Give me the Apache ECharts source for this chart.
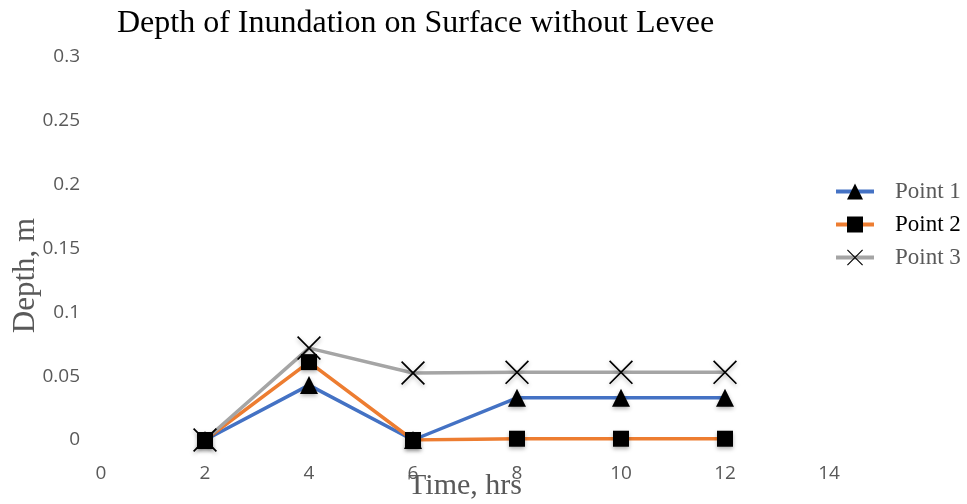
<!DOCTYPE html>
<html>
<head>
<meta charset="utf-8">
<script src="https://cdn.jsdelivr.net/npm/echarts@6/dist/echarts.min.js"></script>
<style>
  html, body { margin: 0; padding: 0; background: #fff; }
  #chart { width: 967px; height: 504px; }
</style>
</head>
<body>
<div id="chart"></div>
<script>
// time in hours
const hours = [2, 4, 6, 8, 10, 12];
const point1 = [0, 0.043, 0, 0.033, 0.033, 0.033];
const point2 = [0, 0.061, 0, 0.001, 0.001, 0.001];
const point3 = [0, 0.072, 0.0525, 0.053, 0.053, 0.053];

const crossPath = "path://M0,0.5L0.5,0L10,9.5L9.5,10Z M9.5,0L10,0.5L0.5,10L0,9.5Z";
const serif = "'Liberation Serif', 'Times New Roman', serif";
const sans = "'Open Sans', 'Noto Sans', sans-serif";

const toPairs = (ys) => hours.map((h, i) => [h, ys[i]]);

const makeSeries = (name, ys, color, symbol, size) => ({
  name,
  type: "line",
  data: toPairs(ys),
  symbol,
  symbolSize: size,
  lineStyle: { color, width: 3.5 },
  itemStyle: {
    color: "#000",
    shadowBlur: 4,
    shadowColor: "rgba(0,0,0,0.3)",
    shadowOffsetY: 2,
  },
  emphasis: { disabled: true },
});

const myChart = echarts.init(document.getElementById("chart"));
myChart.setOption({
  animation: false,
  color: ["#4472C4", "#ED7D31", "#A5A5A5"],
  title: {
    text: "Depth of Inundation on Surface without Levee",
    left: 112,
    top: 3,
    textStyle: { fontFamily: serif, fontSize: 32, fontWeight: "normal", color: "#000" },
  },
  legend: {
    orient: "vertical",
    left: 829,
    top: 175,
    itemWidth: 38,
    itemHeight: 20,
    itemGap: 10,
    lineStyle: { width: 4 },
    textStyle: { fontFamily: serif, fontSize: 23, color: "#595959", padding: [0, 0, 0, 16] },
    data: [
      { name: "Point 1" },
      { name: "Point 2", textStyle: { color: "#000" } },
      { name: "Point 3" },
    ],
  },
  grid: { left: 101, right: 138, top: 57, bottom: 64, outerBoundsMode: "none" },
  xAxis: {
    type: "value",
    min: 0,
    max: 14,
    interval: 2,
    name: "Time, hrs",
    nameLocation: "middle",
    nameMoveOverlap: false,
    nameGap: 31,
    nameTextStyle: { fontFamily: serif, fontSize: 30, color: "#595959" },
    axisLine: { show: false },
    axisTick: { show: false },
    splitLine: { show: false },
    axisLabel: { fontFamily: sans, fontSize: 19, color: "#595959", margin: 24 },
  },
  yAxis: {
    type: "value",
    min: 0,
    max: 0.3,
    interval: 0.05,
    name: "Depth, m",
    nameLocation: "middle",
    nameMoveOverlap: false,
    nameGap: 60,
    nameTextStyle: { fontFamily: serif, fontSize: 31, color: "#595959", padding: [0, 54, 0, 0] },
    axisLine: { show: false },
    axisTick: { show: false },
    splitLine: { show: false },
    axisLabel: { fontFamily: sans, fontSize: 19, color: "#595959", margin: 21 },
  },
  series: [
    makeSeries("Point 1", point1, "#4472C4", "triangle", 18),
    makeSeries("Point 2", point2, "#ED7D31", "rect", 16),
    makeSeries("Point 3", point3, "#A5A5A5", crossPath, 24),
  ],
});
</script>
</body>
</html>
